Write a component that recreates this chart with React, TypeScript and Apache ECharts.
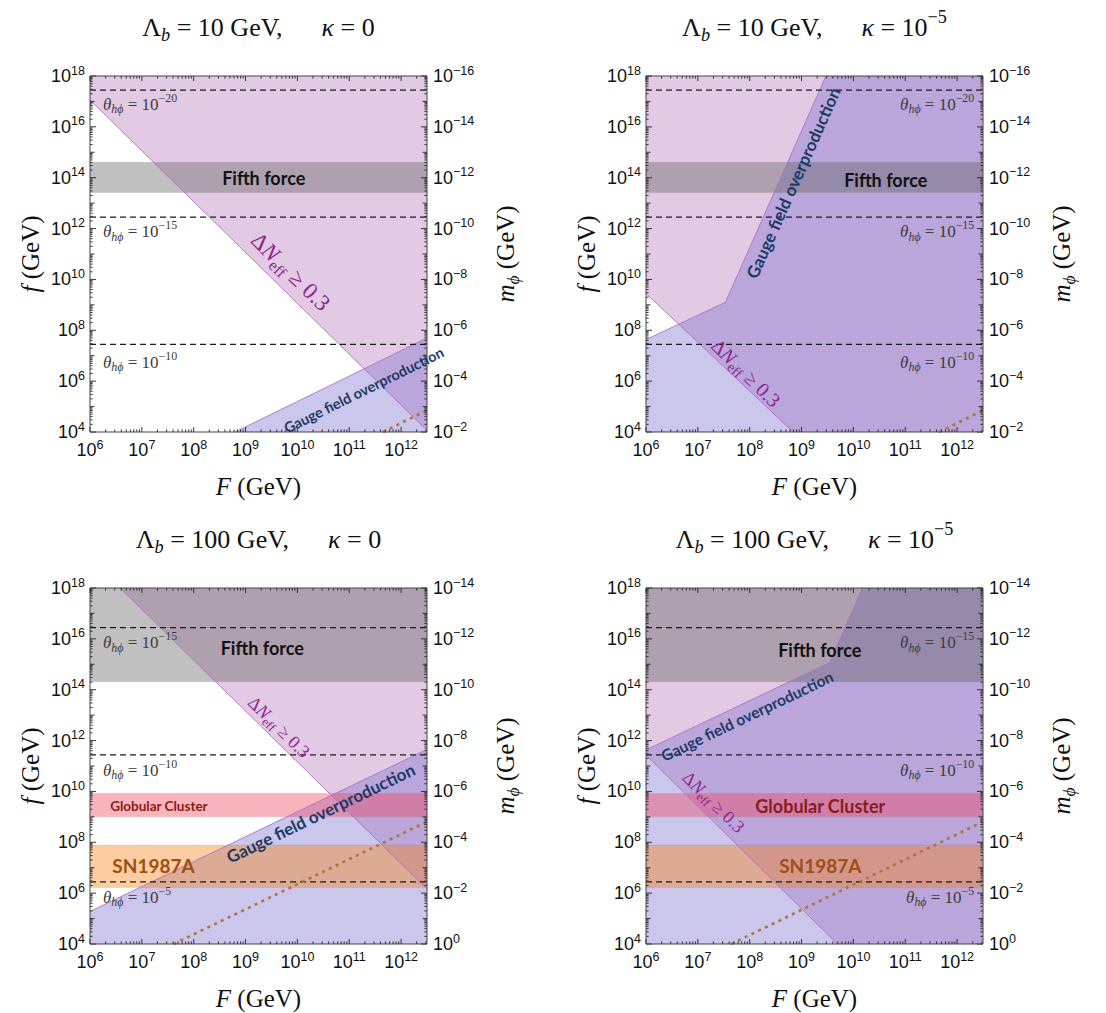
import React, { useEffect, useRef } from 'react';
import * as echarts from 'echarts';

const SERIF = 'Liberation Serif';
const SANS = 'Liberation Sans';
const GILL = 'Lato';

// ---------- axis ranges ----------
const F_RANGE = [1e6, 3.16e12];
const f_RANGE = [1e4, 1e18];
const mPhiTop = [1e-16, 1e-2];
const mPhiBottom = [1e-14, 1];

// ---------- tick values ----------
const xDecades = [1e6, 1e7, 1e8, 1e9, 1e10, 1e11, 1e12];
const yDecades = [1e4, 1e5, 1e6, 1e7, 1e8, 1e9, 1e10, 1e11, 1e12, 1e13, 1e14, 1e15, 1e16, 1e17, 1e18];
const minorSteps = [2, 3, 4, 5, 6, 7, 8, 9];

// ---------- horizontal bands (f in GeV) ----------
const fifthForceTop = [2.6e13, 4.1e14];
const fifthForceBottom = [2.04e14, 1e18];
const globularCluster = [1.0e9, 8.3e9];
const sn1987a = [1.66e6, 7.9e7];

// ---------- theta_{h phi} contours ----------
const thetaTopValues = [2.8e17, 2.8e12, 2.8e7];
const thetaTopExps = ['−20', '−15', '−10'];
const thetaBottomValues = [2.75e16, 2.75e11, 2.75e6];
const thetaBottomExps = ['−15', '−10', '−5'];

// ---------- Delta N_eff boundaries [F, f] ----------
const dNeffTL = [[1e6, 1.15e17], [3.16e12, 1.15e4]];
const dNeffTR = [[1e6, 2.8e9], [6.9e8, 1e4]];
const dNeffBL = [[3.8e6, 1e18], [3.16e12, 1.45e6]];
const dNeffBR = [[1e6, 2.7e11], [4.9e9, 1e4]];

// ---------- gauge field overproduction boundaries [F, f] ----------
const gaugeTL = [[6.3e8, 1e4], [3.16e12, 5.0e7]];
const gaugeTR = [[1e6, 4.3e7], [3.4e7, 1.26e9], [2.95e9, 1e18]];
const gaugeBL = [[1e6, 1.9e5], [3.16e12, 4.5e11]];
const gaugeBR = [[1e6, 4.3e11], [3.5e9, 1.17e15], [1.5e10, 1e18]];

// ---------- brown dotted line [F, f] ----------
const dottedTop = [[4.5e11, 1e4], [3.16e12, 7.2e4]];
const dottedBL = [[4.1e7, 1e4], [3.16e12, 6.5e8]];
const dottedBR = [[4.4e7, 1e4], [3.16e12, 6.5e8]];

const F0 = F_RANGE[0], F1 = F_RANGE[1], f0 = f_RANGE[0], f1 = f_RANGE[1];

const GW = 337;
const GH = 356;

const COLORS = {
  pink: 'rgba(185,122,187,0.4)',
  blue: 'rgba(125,112,205,0.4)',
  gray: 'rgba(97,97,97,0.4)',
  gc: 'rgba(242,67,92,0.4)',
  sn: 'rgba(247,130,17,0.4)',
  edge: '#b26fc4',
};

type Seg = [string, string];
type Note = { kind: string; x: number; y: number; rot?: number; align?: string; size: number; exp?: string };

const panels: any[] = [
  {
    pos: [90, 76], m: mPhiTop, lam: '10', kappa: [[' = 0', 'r']],
    fifth: fifthForceTop, theta: thetaTopValues,
    dN: dNeffTL, dNClose: [[F1, f1], [F0, f1]],
    gauge: gaugeTL, gaugeClose: [[F1, f0]],
    dotted: dottedTop, bands: false,
    notes: [
      { kind: 'theta', x: 1.78e6, y: 7.9e16, align: 'left', size: 17, exp: thetaTopExps[0] },
      { kind: 'theta', x: 1.78e6, y: 7.4e11, align: 'left', size: 17, exp: thetaTopExps[1] },
      { kind: 'theta', x: 1.78e6, y: 5.6e6, align: 'left', size: 17, exp: thetaTopExps[2] },
      { kind: 'fifth', x: 2.24e9, y: 1.0e14, size: 18 },
      { kind: 'dn', x: 7.4e9, y: 2.0e10, rot: -44.5, size: 23 },
      { kind: 'gauge', x: 1.9e11, y: 4.5e5, rot: 26.2, size: 14.5 },
    ],
  },
  {
    pos: [646, 76], m: mPhiTop, lam: '10', kappa: [[' = 10', 'r'], ['−5', 'sp']],
    fifth: fifthForceTop, theta: thetaTopValues,
    dN: dNeffTR, dNClose: [[F1, f0], [F1, f1], [F0, f1]],
    gauge: gaugeTR, gaugeClose: [[F1, f1], [F1, f0], [F0, f0]],
    dotted: dottedTop, bands: false,
    notes: [
      { kind: 'theta', x: 2.14e12, y: 7.9e16, align: 'right', size: 17, exp: thetaTopExps[0] },
      { kind: 'theta', x: 2.14e12, y: 7.4e11, align: 'right', size: 17, exp: thetaTopExps[1] },
      { kind: 'theta', x: 2.14e12, y: 5.6e6, align: 'right', size: 17, exp: thetaTopExps[2] },
      { kind: 'fifth', x: 4.2e10, y: 7.9e13, size: 18 },
      { kind: 'dn', x: 8.5e7, y: 2.1e6, rot: -44.5, size: 20 },
      { kind: 'gauge', x: 6.9e8, y: 6.3e13, rot: 66, size: 17 },
    ],
  },
  {
    pos: [90, 588], m: mPhiBottom, lam: '100', kappa: [[' = 0', 'r']],
    fifth: fifthForceBottom, theta: thetaBottomValues,
    dN: dNeffBL, dNClose: [[F1, f1]],
    gauge: gaugeBL, gaugeClose: [[F1, f0], [F0, f0]],
    dotted: dottedBL, bands: true,
    notes: [
      { kind: 'theta', x: 1.78e6, y: 6.9e15, align: 'left', size: 17, exp: thetaBottomExps[0] },
      { kind: 'theta', x: 1.78e6, y: 6.9e10, align: 'left', size: 17, exp: thetaBottomExps[1] },
      { kind: 'theta', x: 1.78e6, y: 6.9e5, align: 'left', size: 17, exp: thetaBottomExps[2] },
      { kind: 'fifth', x: 2.1e9, y: 4.4e15, size: 18 },
      { kind: 'dn', x: 4.4e9, y: 3.4e12, rot: -44.5, size: 18 },
      { kind: 'gauge', x: 2.8e10, y: 1.4e9, rot: 25.7, size: 17 },
      { kind: 'gc', x: 2.45e6, y: 2.7e9, align: 'left', size: 13.5 },
      { kind: 'sn', x: 2.7e6, y: 1.17e7, align: 'left', size: 19 },
    ],
  },
  {
    pos: [646, 588], m: mPhiBottom, lam: '100', kappa: [[' = 10', 'r'], ['−5', 'sp']],
    fifth: fifthForceBottom, theta: thetaBottomValues,
    dN: dNeffBR, dNClose: [[F1, f0], [F1, f1], [F0, f1]],
    gauge: gaugeBR, gaugeClose: [[F1, f1], [F1, f0], [F0, f0]],
    dotted: dottedBR, bands: true,
    notes: [
      { kind: 'theta', x: 2.14e12, y: 6.9e15, align: 'right', size: 17, exp: thetaBottomExps[0] },
      { kind: 'theta', x: 2.14e12, y: 6.9e10, align: 'right', size: 17, exp: thetaBottomExps[1] },
      { kind: 'theta', x: 2.14e12, y: 6.9e5, align: 'right', size: 17, exp: thetaBottomExps[2] },
      { kind: 'fifth', x: 2.24e9, y: 3.6e15, size: 18 },
      { kind: 'dn', x: 2.0e7, y: 3.8e9, rot: -44.5, size: 18 },
      { kind: 'gauge', x: 8.9e7, y: 9.3e12, rot: 25.5, size: 15.5 },
      { kind: 'gc', x: 2.3e9, y: 2.7e9, size: 18 },
      { kind: 'sn', x: 2.3e9, y: 1.17e7, size: 19 },
    ],
  },
];

const tickRich = {
  b: { fontFamily: SANS, fontSize: 18, color: '#111', lineHeight: 24, verticalAlign: 'middle' },
  s: { fontFamily: SANS, fontSize: 12.5, color: '#111', verticalAlign: 'top', lineHeight: 13 },
};

const expLabel = (v: number) => {
  const e = Math.log10(v);
  const r = Math.round(e);
  if (Math.abs(e - r) > 1e-6) return '';
  return `{b|10}{s|${r < 0 ? '−' + -r : r}}`;
};

// ---------- math-like text built from plain text pieces ----------
let measureCtx: CanvasRenderingContext2D | null = null;
function measure(t: string, size: number, italic: boolean) {
  if (!measureCtx) measureCtx = document.createElement('canvas').getContext('2d');
  if (!measureCtx) return t.length * size * 0.5;
  measureCtx.font = `${italic ? 'italic ' : ''}${size}px "${SERIF}"`;
  return measureCtx.measureText(t).width;
}

function mathText(x: number, y: number, segs: Seg[], size: number, color: string, align = 'center', rotDeg = 0) {
  let cx = 0;
  const children: any[] = [];
  segs.forEach(([t, k]) => {
    const small = k === 'sb' || k === 'sbr' || k === 'sp';
    const fs = small ? size * 0.7 : size;
    const italic = k === 'i' || k === 'sb';
    const dy = k === 'sb' || k === 'sbr' ? size * 0.3 : k === 'sp' ? -size * 0.38 : 0;
    const lead = t.length - t.replace(/^ +/, '').length;
    const core = t.trim();
    const trail = t.length - t.replace(/ +$/, '').length;
    const sp = measure(' ', fs, false);
    cx += lead * sp;
    if (core) {
      children.push({
        type: 'text', x: cx, y: dy, z: 100, silent: true,
        style: {
          text: core, fontFamily: SERIF, fontSize: fs, fontStyle: italic ? 'italic' : 'normal',
          fill: color, align: 'left', verticalAlign: 'middle',
        },
      });
      cx += measure(core, fs, italic);
    }
    if (core || lead === 0) cx += trail * sp;
  });
  const off = align === 'center' ? -cx / 2 : align === 'right' ? -cx : 0;
  children.forEach((c) => { c.x += off; });
  return { type: 'group', x, y, rotation: (rotDeg * Math.PI) / 180, z: 100, silent: true, children };
}

function plainText(x: number, y: number, text: string, style: any, rotDeg = 0) {
  return {
    type: 'text', x, y, rotation: (rotDeg * Math.PI) / 180, z: 100, silent: true,
    style: { text, align: 'center', verticalAlign: 'middle', ...style },
  };
}

function noteEl(n: Note, pt: number[]) {
  const align = n.align || 'center';
  if (n.kind === 'theta') {
    return mathText(pt[0], pt[1], [['θ', 'i'], ['hϕ', 'sb'], [' = 10', 'r'], [n.exp || '', 'sp']], n.size, '#3c3c3c', align, n.rot || 0);
  }
  if (n.kind === 'dn') {
    return mathText(pt[0], pt[1], [['Δ', 'r'], ['N', 'i'], ['eff', 'sbr'], [' ≥ 0.3', 'r']], n.size, '#8e248e', align, n.rot || 0);
  }
  const txt: any = {
    fifth: ['Fifth force', '#111111'],
    gauge: ['Gauge field overproduction', '#1c3966'],
    gc: ['Globular Cluster', '#8a1b1b'],
    sn: ['SN1987A', '#a04d16'],
  }[n.kind];
  return plainText(pt[0], pt[1], txt[0], { align, fill: txt[1], fontFamily: GILL, fontWeight: 'bold', fontSize: n.size }, n.rot || 0);
}

function buildOption() {
  const grid: any[] = [];
  const xAxis: any[] = [];
  const yAxis: any[] = [];
  const series: any[] = [];

  panels.forEach((p, gi) => {
    const xi = gi;
    const yi = gi * 2;
    grid.push({ left: p.pos[0], top: p.pos[1], width: GW, height: GH, containLabel: false });
    const labelCommon = { formatter: expLabel, rich: tickRich, fontFamily: SANS, fontSize: 18, color: '#111' };
    xAxis.push({
      type: 'log', logBase: 10, gridIndex: gi, min: F0, max: F1, interval: 1,
      axisLine: { show: false }, axisTick: { show: false }, splitLine: { show: false },
      axisLabel: { ...labelCommon, margin: 6 },
    });
    yAxis.push({
      type: 'log', logBase: 10, gridIndex: gi, position: 'left', min: f0, max: f1, interval: 2,
      axisLine: { show: false }, axisTick: { show: false }, splitLine: { show: false },
      axisLabel: { ...labelCommon, margin: 5 },
    });
    yAxis.push({
      type: 'log', logBase: 10, gridIndex: gi, position: 'right', inverse: true,
      min: p.m[0], max: p.m[1], interval: 2,
      axisLine: { show: false }, axisTick: { show: false }, splitLine: { show: false },
      axisLabel: { ...labelCommon, margin: 6 },
    });

    const poly = (pts: number[][], fill: string, z: number, stroke?: string) => ({
      type: 'custom', xAxisIndex: xi, yAxisIndex: yi, z, silent: true, clip: true,
      data: [[pts[0][0], pts[0][1]]],
      renderItem: (_params: any, api: any) => ({
        type: 'polygon',
        shape: { points: pts.map((q) => api.coord(q)) },
        style: { fill, stroke: stroke || 'none', lineWidth: stroke ? 0.6 : 0 },
      }),
    });
    const band = (r: number[], fill: string, z: number) =>
      poly([[F0, r[0]], [F1, r[0]], [F1, r[1]], [F0, r[1]]], fill, z, 'rgba(120,120,120,0.25)');
    const line = (pts: number[][], color: string, width: number, type: any, z: number) => ({
      type: 'line', xAxisIndex: xi, yAxisIndex: yi, data: pts, symbol: 'none', silent: true,
      lineStyle: { color, width, type }, z, clip: true,
    });

    series.push(poly([...p.dN, ...p.dNClose], COLORS.pink, 1));
    series.push(poly([...p.gauge, ...p.gaugeClose], COLORS.blue, 2));
    series.push(band(p.fifth, COLORS.gray, 3));
    if (p.bands) {
      series.push(band(globularCluster, COLORS.gc, 3));
      series.push(band(sn1987a, COLORS.sn, 3));
    }
    series.push(line(p.dN, COLORS.edge, 0.9, 'solid', 4));
    series.push(line(p.gauge, COLORS.edge, 0.9, 'solid', 4));
    p.theta.forEach((v: number) => series.push(line([[F0, v], [F1, v]], '#1a1a1a', 1.2, [6, 4], 5)));
    series.push(line(p.dotted, '#a9743d', 2.6, [3, 4.5], 5));

    // frame + ticks on all four sides
    series.push({
      type: 'custom', xAxisIndex: xi, yAxisIndex: yi, z: 9, silent: true, clip: false,
      data: [[F0, f0]],
      renderItem: (_params: any, api: any) => {
        const bl = api.coord([F0, f0]);
        const tr = api.coord([F1, f1]);
        const x0 = bl[0], y0 = bl[1], x1 = tr[0], y1 = tr[1];
        const ch: any[] = [];
        const seg = (ax: number, ay: number, bx: number, by: number) =>
          ch.push({ type: 'line', shape: { x1: ax, y1: ay, x2: bx, y2: by }, style: { stroke: '#222', lineWidth: 0.9 } });
        const xt: [number, number][] = [];
        xDecades.forEach((d) => {
          xt.push([d, 5]);
          minorSteps.forEach((k) => { if (k * d < F1) xt.push([k * d, 2.6]); });
        });
        xt.forEach(([v, len]) => {
          const px = api.coord([v, f0])[0];
          seg(px, y0, px, y0 - len);
          seg(px, y1, px, y1 + len);
        });
        const yt: [number, number][] = [];
        yDecades.forEach((d, i) => {
          yt.push([d, i % 2 === 0 ? 6 : 4.5]);
          if (d < f1) minorSteps.forEach((k) => yt.push([k * d, 2.6]));
        });
        yt.forEach(([v, len]) => {
          const py = api.coord([F0, v])[1];
          seg(x0, py, x0 + len, py);
          seg(x1, py, x1 - len, py);
        });
        ch.push({ type: 'rect', shape: { x: x0, y: y1, width: x1 - x0, height: y0 - y1 }, style: { fill: 'none', stroke: '#444', lineWidth: 1 } });
        return { type: 'group', children: ch };
      },
    });
  });

  return { animation: false, backgroundColor: '#fff', grid, xAxis, yAxis, series };
}

function buildGraphic(chart: any) {
  const g: any[] = [];
  panels.forEach((p, gi) => {
    const cx = p.pos[0] + GW / 2;
    const cy = p.pos[1] + GH / 2;
    const titleSegs: Seg[] = [['Λ', 'r'], ['b', 'sb'], [` = ${p.lam} GeV,`, 'r'], ['      ', 'r'], ['κ', 'i'], ...p.kappa];
    g.push(mathText(cx, p.pos[1] - 49, titleSegs, 26, '#111'));
    g.push(mathText(cx, p.pos[1] + GH + 54, [['F', 'i'], [' (GeV)', 'r']], 25, '#111'));
    g.push(mathText(p.pos[0] - 60, cy, [['f', 'i'], [' (GeV)', 'r']], 25, '#111', 'center', 90));
    g.push(mathText(p.pos[0] + GW + 78, cy, [['m', 'i'], ['ϕ', 'sb'], [' (GeV)', 'r']], 25, '#111', 'center', 90));
    // annotations placed through the panel's own scales
    p.notes.forEach((n: Note) => {
      const pt = chart.convertToPixel({ xAxisIndex: gi, yAxisIndex: gi * 2 }, [n.x, n.y]);
      if (pt) g.push(noteEl(n, pt));
    });
  });
  return g;
}

export default function App() {
  const ref = useRef<HTMLDivElement>(null);
  useEffect(() => {
    document.body.style.margin = '0';
    const chart = echarts.init(ref.current!, null, { renderer: 'svg' });
    chart.setOption(buildOption() as any);
    chart.setOption({ graphic: buildGraphic(chart) } as any);
    return () => chart.dispose();
  }, []);
  return <div ref={ref} style={{ width: 1106, height: 1013 }} />;
}
